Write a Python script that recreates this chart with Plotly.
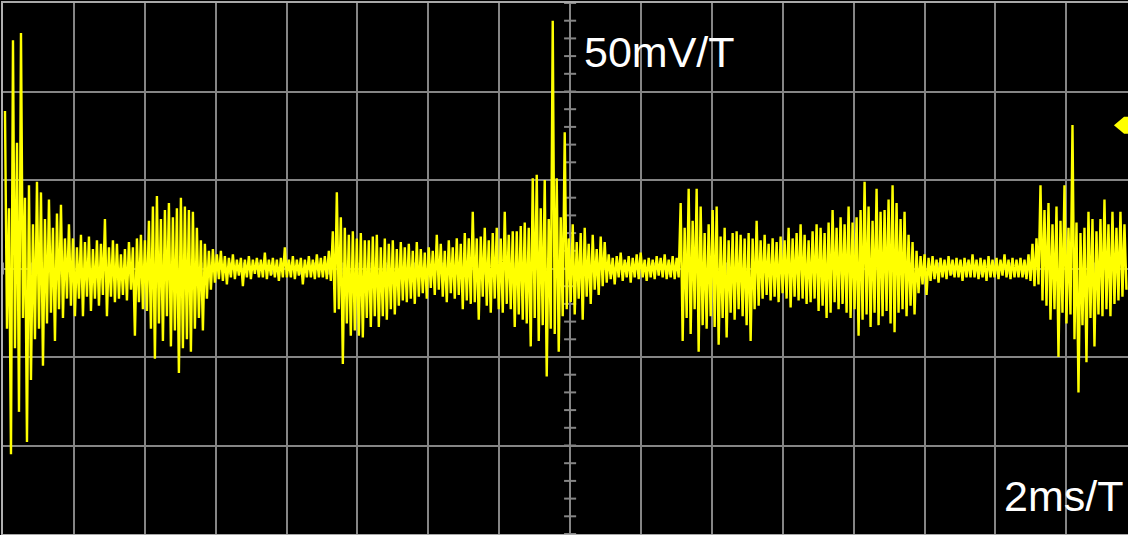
import numpy as np
import plotly.graph_objects as go

# ---- oscilloscope settings ----
volts_per_div_mV = 50
time_per_div_ms = 2
n_div_y = 6
visible_divs_x = 15.87
sample_period_ms = 0.1128
first_sample_ms = 0.056
trigger_level_mV = 81

peak_hi_mV = [
    89, 34, 129, 71, 133, 40, 47, 25, 49, 43,
    28, 39, 23, 31, 36, 17, 25, 17, 12, 19,
    15, 18, 11, 16, 14, 28, 12, 16, 14, 8,
    11, 15, 12, 17, 19, 16, 27, 35, 41, 28,
    33, 37, 29, 34, 40, 35, 33, 32, 23, 16,
    14, 10, 11, 8, 10, 7, 6, 8, 5, 6,
    5, 7, 5, 6, 5, 9, 5, 6, 5, 6,
    12, 5, 7, 5, 6, 5, 7, 5, 8, 6,
    7, 10, 21, 43, 29, 23, 19, 21, 17, 20,
    16, 16, 18, 19, 12, 17, 14, 16, 11, 15,
    12, 14, 10, 15, 11, 9, 12, 10, 19, 14,
    10, 16, 12, 17, 14, 20, 17, 32, 17, 18,
    23, 16, 20, 23, 17, 32, 19, 21, 21, 24,
    26, 23, 51, 53, 34, 50, 28, 140, 51, 29,
    77, 17, 25, 15, 20, 23, 14, 19, 11, 18,
    15, 8, 6, 7, 9, 5, 7, 6, 8, 9,
    5, 6, 5, 7, 6, 8, 5, 7, 6, 37,
    23, 45, 27, 45, 35, 20, 25, 33, 35, 18,
    23, 16, 20, 21, 19, 17, 20, 17, 27, 16,
    19, 14, 17, 15, 18, 16, 23, 17, 20, 25,
    19, 16, 21, 25, 23, 20, 26, 33, 23, 29,
    25, 35, 26, 29, 33, 49, 35, 27, 45, 32,
    33, 39, 47, 37, 28, 32, 19, 15, 10, 7,
    8, 6, 7, 5, 6, 5, 7, 5, 6, 5,
    6, 5, 8, 5, 6, 5, 7, 5, 6, 5,
    8, 5, 6, 5, 6, 5, 8, 14, 17, 47,
    33, 37, 25, 35, 27, 47, 23, 81, 26, 20,
    23, 32, 28, 21, 28, 39, 25, 32, 23, 32, 25,
]
peak_lo_mV = [
    34, 105, 45, 81, 28, 98, 63, 40, 34, 55,
    31, 25, 41, 23, 28, 17, 21, 27, 17, 27,
    16, 24, 17, 21, 15, 27, 16, 19, 17, 15,
    18, 12, 38, 19, 23, 24, 34, 51, 31, 41,
    27, 44, 35, 59, 45, 40, 47, 34, 28, 35,
    17, 12, 8, 6, 7, 9, 5, 6, 4, 10,
    5, 6, 3, 5, 5, 6, 4, 5, 7, 5,
    5, 5, 6, 4, 9, 5, 5, 6, 5, 5,
    6, 7, 25, 23, 54, 31, 38, 35, 38, 39,
    28, 33, 27, 33, 27, 29, 23, 26, 21, 18,
    19, 17, 20, 16, 14, 17, 11, 15, 12, 16,
    19, 14, 17, 15, 23, 18, 20, 19, 29, 16,
    21, 25, 17, 23, 25, 20, 23, 33, 26, 29,
    31, 44, 28, 41, 32, 61, 34, 37, 47, 27,
    23, 19, 26, 17, 29, 16, 20, 12, 15, 10,
    8, 6, 9, 5, 7, 5, 8, 5, 6, 5,
    7, 5, 6, 4, 5, 6, 5, 6, 5, 41,
    28, 37, 23, 47, 32, 34, 27, 33, 43, 28,
    39, 25, 29, 23, 27, 32, 41, 23, 21, 17,
    15, 18, 16, 19, 14, 17, 22, 16, 18, 17,
    20, 19, 17, 24, 21, 28, 25, 19, 23, 20,
    25, 28, 23, 38, 29, 26, 33, 25, 32, 27,
    24, 31, 36, 25, 23, 27, 21, 26, 14, 9,
    15, 7, 6, 8, 5, 6, 4, 5, 5, 7,
    5, 5, 5, 6, 5, 7, 5, 5, 6, 4,
    5, 6, 5, 5, 5, 6, 7, 10, 9, 18,
    21, 29, 23, 50, 25, 31, 26, 40, 70, 32,
    53, 28, 44, 26, 27, 23, 27, 20, 18, 16, 12,
]
assert len(peak_hi_mV) == len(peak_lo_mV)

scale_labels = ["50mV/T", "2ms/T"]

# ---- build trace ----
hi = np.array(peak_hi_mV, dtype=float)
lo = -np.array(peak_lo_mV, dtype=float)
n = len(hi)
signal = np.empty(2 * n)
signal[0::2] = hi
signal[1::2] = lo
t = first_sample_ms + np.arange(2 * n) * (sample_period_ms / 2)

x_max = visible_divs_x * time_per_div_ms
y_half = n_div_y / 2 * volts_per_div_mV

fig = go.Figure()
fig.add_trace(go.Scatter(
    x=t, y=signal, mode="lines",
    line=dict(color="#ffff00", width=2.4, simplify=False),
    hoverinfo="skip",
))

grid_col = "#858585"
shapes = []
# minor ticks on centre cross
x_c = 8 * time_per_div_ms
tick_half_x = 0.17
tick_half_y = 3.4
for k in range(-15, 16):
    v = k * volts_per_div_mV / 5
    shapes.append(dict(type="line", xref="x", yref="y", layer="below",
                       x0=x_c - tick_half_x, x1=x_c + tick_half_x, y0=v, y1=v,
                       line=dict(color=grid_col, width=2)))
for k in range(0, int(x_max / (time_per_div_ms / 5)) + 1):
    u = k * time_per_div_ms / 5
    shapes.append(dict(type="line", xref="x", yref="y", layer="below",
                       x0=u, x1=u, y0=-tick_half_y, y1=tick_half_y,
                       line=dict(color=grid_col, width=2)))
# trigger level marker at right edge
tl = trigger_level_mV
shapes.append(dict(type="path", xref="paper", yref="y", layer="above",
                   path=f"M 0.9875,{tl} L 0.9965,{tl+4.8} L 1.01,{tl+4.8} L 1.01,{tl-4.8} L 0.9965,{tl-4.8} Z",
                   fillcolor="#ffff00", line=dict(color="#ffff00", width=0)))

fig.update_layout(
    width=1128, height=535,
    margin=dict(l=3, r=0, t=3, b=1, pad=0),
    paper_bgcolor="black", plot_bgcolor="black",
    showlegend=False,
    shapes=shapes,
    xaxis=dict(range=[0, x_max], dtick=time_per_div_ms, tick0=0, showgrid=True,
               gridcolor=grid_col, gridwidth=2, showticklabels=False, ticks="",
               zeroline=False, showline=True, linecolor="#a8a8a8", linewidth=2,
               mirror=True, fixedrange=True),
    yaxis=dict(range=[-y_half, y_half], dtick=volts_per_div_mV, tick0=0, showgrid=True,
               gridcolor=grid_col, gridwidth=2, showticklabels=False, ticks="",
               zeroline=False, showline=True, linecolor="#b0b0b0", linewidth=2,
               mirror=False, fixedrange=True),
    annotations=[
        dict(text=scale_labels[0], xref="paper", yref="paper", x=0.5147, y=0.9068,
             xanchor="left", yanchor="middle", showarrow=False,
             font=dict(family="Liberation Sans, Arial, sans-serif", size=43, color="white")),
        dict(text=scale_labels[1], xref="paper", yref="paper", x=0.888, y=0.0725,
             xanchor="left", yanchor="middle", showarrow=False,
             font=dict(family="Liberation Sans, Arial, sans-serif", size=43, color="white")),
    ],
)

fig.write_html(
    "out.html",
    config={"displayModeBar": False},
    post_script="document.body.style.margin='0';document.body.style.overflow='hidden';",
)
